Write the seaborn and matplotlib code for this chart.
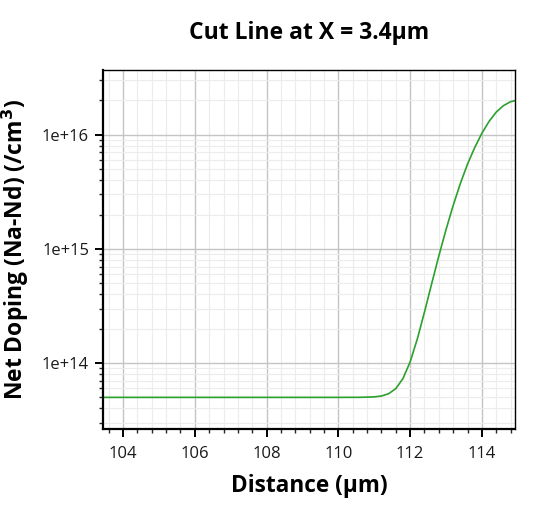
import numpy as np
import pandas as pd
import matplotlib
matplotlib.use("Agg")
import matplotlib.pyplot as plt
import matplotlib.ticker as mticker
import seaborn as sns

# values
distance_um = [103.4, 110.0, 110.6, 111.0, 111.2, 111.4, 111.6, 111.8, 112.0,
               112.2, 112.4, 112.6, 112.8, 113.0, 113.2, 113.4, 113.6, 113.8,
               114.0, 114.2, 114.4, 114.6, 114.8, 114.92]
net_doping = [5.0e13, 5.0e13, 5.006e13, 5.05e13, 5.14e13, 5.38e13, 5.96e13,
              7.3e13, 1.02e14, 1.62e14, 2.79e14, 4.94e14, 8.66e14, 1.47e15,
              2.40e15, 3.74e15, 5.53e15, 7.72e15, 1.03e16, 1.31e16, 1.58e16,
              1.80e16, 1.95e16, 1.99e16]

x_limits = (103.44, 114.92)
y_limits = (2.64e13, 3.7e16)
x_ticks = [104, 106, 108, 110, 112, 114]
y_ticks = [1e14, 1e15, 1e16]
y_tick_labels = ["1e+14", "1e+15", "1e+16"]

df = pd.DataFrame({"distance": distance_um, "doping": net_doping})

sns.set_style("white")
plt.rcParams["font.family"] = ["Open Sans", "DejaVu Sans"]
plt.rcParams["text.color"] = "black"
plt.rcParams["axes.labelcolor"] = "black"

fig = plt.figure(figsize=(5.38, 5.07), dpi=100)
ax = fig.add_axes([0.1914, 0.1538, 0.7656, 0.7082])

sns.lineplot(data=df, x="distance", y="doping", color="#2ca02c", linewidth=1.2, ax=ax)

ax.set_yscale("log")
ax.set_xlim(*x_limits)
ax.set_ylim(*y_limits)

ax.xaxis.set_major_locator(mticker.FixedLocator(x_ticks))
ax.xaxis.set_minor_locator(mticker.MultipleLocator(0.4))
ax.yaxis.set_major_locator(mticker.FixedLocator(y_ticks))
ax.yaxis.set_major_formatter(mticker.FixedFormatter(y_tick_labels))
ax.yaxis.set_minor_locator(mticker.LogLocator(base=10, subs=np.arange(2, 10)))
ax.yaxis.set_minor_formatter(mticker.NullFormatter())

ax.grid(which="major", color="#c4c4c4", linewidth=1.0)
ax.grid(which="minor", color="#ececec", linewidth=0.8)
ax.set_axisbelow(True)

ax.tick_params(which="major", direction="out", length=6, width=1.4, labelsize=12,
               colors="black", bottom=True, left=True, pad=4)
ax.tick_params(axis="x", which="major", pad=6)
ax.tick_params(which="minor", direction="out", length=3, width=1.0,
               bottom=True, left=True)
ax.tick_params(axis="both", labelcolor="#1a1a1a")

for side in ["left", "bottom"]:
    ax.spines[side].set_linewidth(1.6)
for side in ["top", "right"]:
    ax.spines[side].set_linewidth(1.0)
for s in ax.spines.values():
    s.set_color("black")
    s.set_visible(True)

ax.set_title("Cut Line at X = 3.4µm", fontsize=16.5, fontweight="bold", pad=22)
ax.set_xlabel("Distance (µm)", fontsize=16.3, fontweight="bold", labelpad=9)
ax.set_ylabel("Net Doping (Na-Nd) (/cm$^{\\mathbf{3}}$)", fontsize=16.5,
              fontweight="bold", labelpad=8)

fig.savefig("out.png", dpi=100)
plt.close(fig)
